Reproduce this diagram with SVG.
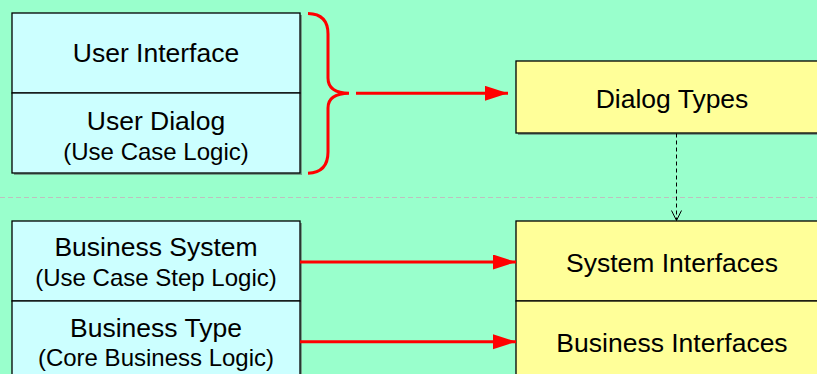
<svg xmlns="http://www.w3.org/2000/svg" width="817" height="374" viewBox="0 0 817 374">
  <defs>
    <style>
      .bg { fill: #99FFCC; }
      .shadow { fill: #555555; opacity: 0.55; }
      .left { fill: #CCFFFF; stroke: #000000; stroke-width: 1.3; }
      .right { fill: #FFFF99; stroke: #000000; stroke-width: 1.3; }
      .title { font-family: "Liberation Sans", Arial, sans-serif; font-size: 26.5px; fill: #000000; text-anchor: middle; }
      .sub { font-family: "Liberation Sans", Arial, sans-serif; font-size: 24px; fill: #000000; text-anchor: middle; }
      .flow { stroke: #FF0000; stroke-width: 3; fill: none; }
      .dep { stroke: #000000; stroke-width: 1; stroke-dasharray: 4 3; fill: none; }
      .sep { stroke: #BFBFBF; stroke-width: 1; stroke-dasharray: 5 3; fill: none; }
    </style>
    <marker id="redHead" markerUnits="userSpaceOnUse" markerWidth="24" markerHeight="16" refX="23" refY="7.5" orient="auto">
      <path d="M0,0 L23,7.5 L0,15 Z" fill="#FF0000"/>
    </marker>
    <marker id="openHead" markerUnits="userSpaceOnUse" markerWidth="14" markerHeight="12" refX="5.5" refY="10.5" orient="0">
      <path d="M0.5,0.5 L5.5,10.5 L10.5,0.5" fill="none" stroke="#000000" stroke-width="1"/>
    </marker>
  </defs>

  <rect class="bg" x="0" y="0" width="817" height="374"/>

  <!-- layer separator -->
  <line class="sep" x1="0" y1="197.5" x2="817" y2="197.5"/>

  <!-- left column: presentation layer -->
  <g id="user-interface">
    <rect class="shadow" x="14" y="15" width="288" height="80"/>
    <rect class="left" x="12" y="13" width="288" height="80"/>
    <text class="title" x="156" y="62">User Interface</text>
  </g>
  <g id="user-dialog">
    <rect class="shadow" x="14" y="95" width="288" height="80"/>
    <rect class="left" x="12" y="93" width="288" height="80"/>
    <text class="title" x="156" y="130">User Dialog</text>
    <text class="sub" x="156" y="160">(Use Case Logic)</text>
  </g>

  <!-- left column: business layer -->
  <g id="business-system">
    <rect class="shadow" x="14" y="223" width="288" height="80"/>
    <rect class="left" x="12" y="221" width="288" height="80"/>
    <text class="title" x="156" y="256">Business System</text>
    <text class="sub" x="156" y="286">(Use Case Step Logic)</text>
  </g>
  <g id="business-type">
    <rect class="shadow" x="14" y="303" width="288" height="80"/>
    <rect class="left" x="12" y="301" width="288" height="80"/>
    <text class="title" x="156" y="337">Business Type</text>
    <text class="sub" x="156" y="366">(Core Business Logic)</text>
  </g>

  <!-- right column -->
  <g id="dialog-types">
    <rect class="shadow" x="518" y="63" width="320" height="72"/>
    <rect class="right" x="516" y="61" width="320" height="72"/>
    <text class="title" x="672" y="108">Dialog Types</text>
  </g>
  <g id="system-interfaces">
    <rect class="shadow" x="518" y="223" width="320" height="80"/>
    <rect class="right" x="516" y="221" width="320" height="80"/>
    <text class="title" x="672" y="272">System Interfaces</text>
  </g>
  <g id="business-interfaces">
    <rect class="shadow" x="518" y="303" width="320" height="80"/>
    <rect class="right" x="516" y="301" width="320" height="80"/>
    <text class="title" x="672" y="352">Business Interfaces</text>
  </g>

  <!-- brace grouping the presentation boxes -->
  <g id="brace">
    <path class="flow" stroke-width="2.8" d="M308,13.5 Q328,14 328,34 L328,78 Q328,93 349,93.3 Q328,93.6 328,108 L328,152 Q328,172.5 308,173.3"/>
  </g>

  <g id="connectors">
    <line class="flow" x1="356" y1="93.3" x2="508" y2="93.3" marker-end="url(#redHead)"/>
    <line class="dep" x1="676.5" y1="133.5" x2="676.5" y2="220.5" marker-end="url(#openHead)"/>
    <line class="flow" x1="300" y1="262" x2="516" y2="262" marker-end="url(#redHead)"/>
    <line class="flow" x1="300" y1="341.7" x2="516" y2="341.7" marker-end="url(#redHead)"/>
  </g>
</svg>
